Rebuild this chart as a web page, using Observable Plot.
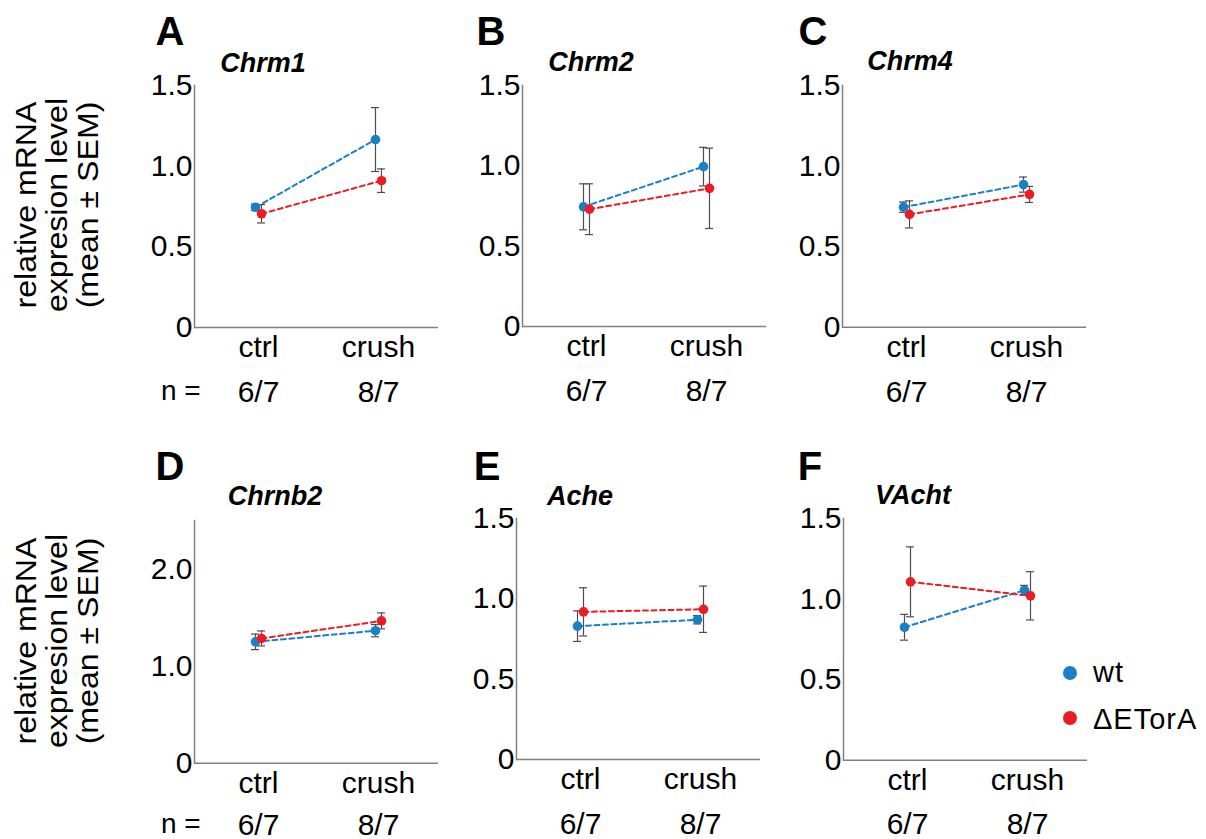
<!DOCTYPE html>
<html><head><meta charset="utf-8">
<script src="https://cdn.jsdelivr.net/npm/d3@7"></script>
<script src="https://cdn.jsdelivr.net/npm/@observablehq/plot@0.6"></script>
<style>
body{margin:0;background:#fff;}
#root{position:relative;width:1206px;height:839px;font-family:"Liberation Sans",Arial,sans-serif;color:#000;overflow:hidden;background:#fff}
.abs{position:absolute;white-space:nowrap;line-height:1}
.panel{position:absolute}
.panel svg{overflow:visible}
</style></head><body><div id="root"></div>
<script>
// ---------- data ----------
const conditions = ["ctrl", "crush"];
const nLabels = ["6/7", "8/7"];
const genotypes = ["wt", "ΔETorA"];
const genes = ["Chrm1", "Chrm2", "Chrm4", "Chrnb2", "Ache", "VAcht"];
const letters = ["A", "B", "C", "D", "E", "F"];
// [ctrl, crush] per gene
const wtMean = [[0.745, 1.165], [0.745, 0.995], [0.745, 0.885], [1.25, 1.365], [0.83, 0.87], [0.825, 1.055]];
const wtSem  = [[0.02, 0.198], [0.143, 0.12], [0.032, 0.047], [0.08, 0.063], [0.095, 0.026], [0.08, 0.03]];
const koMean = [[0.705, 0.91], [0.73, 0.86], [0.70, 0.824], [1.285, 1.466], [0.919, 0.935], [1.107, 1.02]];
const koSem  = [[0.057, 0.073], [0.158, 0.25], [0.084, 0.05], [0.077, 0.082], [0.15, 0.144], [0.217, 0.15]];
const yMax = [1.5, 1.5, 1.5, 2.5, 1.5, 1.5];
const yTicks = [[0, 0.5, 1, 1.5], [0, 0.5, 1, 1.5], [0, 0.5, 1, 1.5], [0, 1, 2], [0, 0.5, 1, 1.5], [0, 0.5, 1, 1.5]];
const showN = [true, false, false, true, false, false];
const yTitle = ["relative mRNA", "expresion level", "(mean ± SEM)"];

// ---------- layout / style ----------
const colors = ["#1a80c6", "#ec1c24"];
const layout = [
  {x0: 194, top: 85, zero: 327, nPad: 53, letterX: 170, letterBase: 45, titleX: 263, titleBase: 73},
  {x0: 521.7, top: 85, zero: 326, nPad: 53, letterX: 491, letterBase: 45, titleX: 591, titleBase: 72},
  {x0: 841.7, top: 85, zero: 326.7, nPad: 53, letterX: 813, letterBase: 45, titleX: 910, titleBase: 71},
  {x0: 194.3, top: 520, zero: 762.7, nPad: 50, letterX: 170, letterBase: 480, titleX: 275, titleBase: 506},
  {x0: 516, top: 518.3, zero: 759.3, nPad: 53, letterX: 487, letterBase: 480, titleX: 580, titleBase: 506},
  {x0: 843.3, top: 518.3, zero: 760, nPad: 52, letterX: 810, letterBase: 480, titleX: 913, titleBase: 505}
];
const FONT = '"Liberation Sans", Arial, sans-serif';
const root = document.getElementById("root");

function addText(txt, {left, base, size, weight = "normal", style = "normal", center = false, ls = 0}) {
  const d = document.createElement("div");
  d.className = "abs";
  d.textContent = txt;
  d.style.fontSize = size + "px";
  d.style.fontWeight = weight;
  d.style.fontStyle = style;
  d.style.letterSpacing = ls + "px";
  d.style.top = (base - 0.8465 * size) + "px";
  d.style.left = left + "px";
  if (center) d.style.transform = "translateX(-50%)";
  root.appendChild(d);
  return d;
}

function panel(i) {
  const L = layout[i];
  const ml = 60, mr = 4, mt = 6, mb = 85;
  const innerW = 244;
  const innerH = L.zero - L.top;
  const rows = [];
  conditions.forEach((c, j) => {
    rows.push({cond: c, geno: genotypes[0], mean: wtMean[i][j], sem: wtSem[i][j]});
    rows.push({cond: c, geno: genotypes[1], mean: koMean[i][j], sem: koSem[i][j]});
  });
  const marks = [];
  genotypes.forEach((g, k) => {
    const d = rows.filter(r => r.geno === g);
    const dx = k === 0 ? -3 : 3;
    const eb = {stroke: "#4d4d4d", strokeWidth: 1.2, dx};
    marks.push(Plot.ruleX(d, {x: "cond", y1: r => r.mean - r.sem, y2: r => r.mean + r.sem, ...eb}));
    marks.push(Plot.ruleY(d, {x1: "cond", x2: "cond", y: r => r.mean + r.sem, insetLeft: -4, insetRight: -4, ...eb}));
    marks.push(Plot.ruleY(d, {x1: "cond", x2: "cond", y: r => r.mean - r.sem, insetLeft: -4, insetRight: -4, ...eb}));
  });
  genotypes.forEach((g, k) => {
    const d = rows.filter(r => r.geno === g);
    const dx = k === 0 ? -3 : 3;
    marks.push(Plot.line(d, {x: "cond", y: "mean", stroke: "geno", strokeWidth: 2, strokeDasharray: "5,3.5", dx}));
  });
  genotypes.forEach((g, k) => {
    const d = rows.filter(r => r.geno === g);
    const dx = k === 0 ? -3 : 3;
    marks.push(Plot.dot(d, {x: "cond", y: "mean", fill: "geno", r: 4.8, dx}));
  });

  const chart = Plot.plot({
    width: ml + innerW + mr,
    height: mt + innerH + mb,
    marginLeft: ml, marginRight: mr, marginTop: mt, marginBottom: mb,
    x: {type: "point", domain: conditions, padding: 0.5, insetLeft: 3},
    y: {domain: [0, yMax[i]]},
    color: {domain: genotypes, range: colors},
    style: {fontFamily: FONT, color: "#000", background: "transparent", overflow: "visible"},
    marks: [
      Plot.axisY({ticks: yTicks[i], tickFormat: d => d === 0 ? "0" : d.toFixed(1), tickSize: 0, tickPadding: 2, fontSize: 30, label: null}),
      Plot.axisX({tickSize: 0, tickPadding: 8, fontSize: 30, label: null, style: {letterSpacing: "0.6px"}}),
      Plot.axisX({tickSize: 0, tickPadding: L.nPad, fontSize: 30, label: null, tickFormat: d => nLabels[conditions.indexOf(d)]}),
      Plot.ruleY([0], {stroke: "#808080", strokeWidth: 1.5}),
      Plot.frame({anchor: "left", stroke: "#808080", strokeWidth: 1.5}),
      ...marks
    ]
  });
  const wrap = document.createElement("div");
  wrap.className = "panel";
  wrap.style.left = (L.x0 - ml) + "px";
  wrap.style.top = (L.top - mt) + "px";
  wrap.appendChild(chart);
  root.appendChild(wrap);

  addText(letters[i], {left: L.letterX, base: L.letterBase, size: 40, weight: "bold", center: true});
  addText(genes[i], {left: L.titleX, base: L.titleBase, size: 27, weight: "bold", style: "italic", center: true});
  if (showN[i]) addText("n =", {left: 161, base: L.zero + L.nPad + 21, size: 28});
}

genes.forEach((g, i) => panel(i));

// y-axis titles
[205, 641].forEach(cy => {
  const d = document.createElement("div");
  d.className = "abs";
  d.style.fontSize = "30px";
  d.style.lineHeight = "31px";
  d.style.textAlign = "center";
  d.style.left = "56px";
  d.style.top = cy + "px";
  d.style.transform = "translate(-50%,-50%) rotate(-90deg) scaleX(1.07)";
  d.innerHTML = yTitle.join("<br>");
  root.appendChild(d);
});

// legend
genotypes.forEach((g, k) => {
  const cy = [673, 718][k];
  const dot = document.createElement("div");
  dot.style.cssText = `position:absolute;left:${1070 - 7}px;top:${cy - 7}px;width:14px;height:14px;border-radius:50%;background:${colors[k]}`;
  root.appendChild(dot);
  addText(g, {left: 1093, base: [683, 730][k], size: 29, ls: 1});
});
</script></body></html>
